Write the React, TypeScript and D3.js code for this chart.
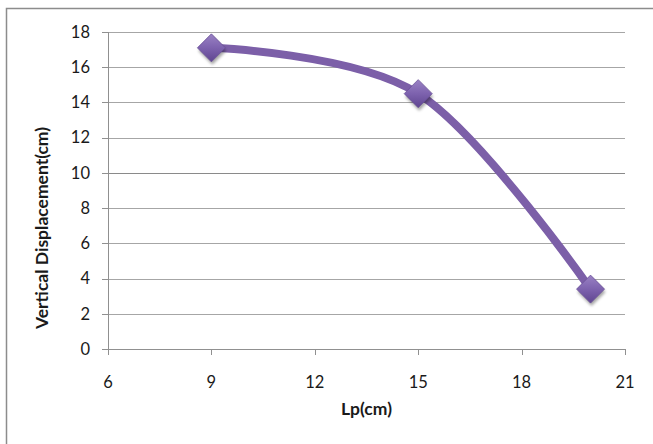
import React from "react";
import * as d3 from "d3";

// Measured lengths and the resulting vertical displacement
const lpValues = [9, 15, 20];
const displacementValues = [17.1, 14.5, 3.4];
const xTicks = [6, 9, 12, 15, 18, 21];
const yTicks = [0, 2, 4, 6, 8, 10, 12, 14, 16, 18];

const W = 653;
const H = 444;
const left = 108;
const right = 625;
const top = 32;
const bottom = 349;

const FONT = "Lato, 'Open Sans', 'Liberation Sans', sans-serif";

export default function App() {
  const x = d3.scaleLinear().domain([6, 21]).range([left, right]);
  const y = d3.scaleLinear().domain([0, 18]).range([bottom, top]);

  const points: [number, number][] = lpValues.map((v, i) => [x(v), y(displacementValues[i])]);
  const line = d3.line().curve(d3.curveCatmullRom.alpha(0))(points) || "";

  const diamond = (cx: number, cy: number, r: number) =>
    `M${cx},${cy - r}L${cx + r},${cy}L${cx},${cy + r}L${cx - r},${cy}Z`;

  return (
    <svg
      width={W}
      height={H}
      style={{ position: "absolute", left: 0, top: 0, background: "#fff" }}
    >
      <defs>
        <linearGradient id="mk" x1="0" y1="0" x2="0" y2="1">
          <stop offset="0" stopColor="#9a82c4" />
          <stop offset="0.5" stopColor="#7d62ae" />
          <stop offset="1" stopColor="#5f4590" />
        </linearGradient>
        <filter id="sh" x="-50%" y="-50%" width="200%" height="200%">
          <feGaussianBlur stdDeviation="1.6" />
        </filter>
        <filter id="soft" x="-5%" y="-5%" width="110%" height="110%">
          <feGaussianBlur stdDeviation="0.5" />
        </filter>
      </defs>

      {/* chart frame */}
      <rect x={6.5} y={8.5} width={W + 10} height={H + 10} fill="#fff" stroke="#8c8c8c" strokeWidth={1.5} />

      {/* horizontal gridlines */}
      {yTicks.map((t) => (
        <line
          key={"g" + t}
          x1={left}
          x2={right}
          y1={Math.round(y(t)) + 0.5}
          y2={Math.round(y(t)) + 0.5}
          stroke={t === 10 ? "#8a8a8a" : "#a6a6a6"}
          strokeWidth={1}
        />
      ))}

      {/* axes */}
      <line x1={left + 0.5} x2={left + 0.5} y1={top} y2={bottom} stroke="#909090" />
      <line x1={left} x2={right} y1={bottom + 0.5} y2={bottom + 0.5} stroke="#909090" />

      {yTicks.map((t) => (
        <g key={"y" + t}>
          <line x1={left - 6} x2={left} y1={Math.round(y(t)) + 0.5} y2={Math.round(y(t)) + 0.5} stroke="#909090" />
          <text
            x={left - 18}
            y={y(t)}
            dy="0.35em"
            textAnchor="end"
            fontFamily={FONT}
            fontSize={16.5}
            fill="#1a1a1a"
          >
            {t}
          </text>
        </g>
      ))}

      {xTicks.map((t) => (
        <g key={"x" + t}>
          <line x1={Math.round(x(t)) + 0.5} x2={Math.round(x(t)) + 0.5} y1={bottom} y2={bottom + 6} stroke="#909090" />
          <text
            x={x(t)}
            y={bottom + 33}
            dy="0.35em"
            textAnchor="middle"
            fontFamily={FONT}
            fontSize={16.5}
            fill="#1a1a1a"
          >
            {t}
          </text>
        </g>
      ))}

      {/* axis titles */}
      <text
        x={(left + right) / 2}
        y={409}
        dy="0.35em"
        textAnchor="middle"
        fontFamily={FONT}
        fontWeight="bold"
        fontSize={17.5}
        fill="#1a1a1a"
      >
        Lp(cm)
      </text>
      <text
        transform={`translate(42,228) rotate(-90)`}
        dy="0.35em"
        textAnchor="middle"
        fontFamily={FONT}
        fontWeight="bold"
        fontSize={17.5}
        fill="#1a1a1a"
      >
        Vertical Displacement(cm)
      </text>

      {/* smoothed series line */}
      <path d={line} fill="none" stroke="#7b5ea8" strokeWidth={8} strokeLinecap="round" filter="url(#soft)" />

      {/* diamond markers */}
      {points.map(([px, py], i) => (
        <g key={"m" + i}>
          <path d={diamond(px + 1, py + 3, 14)} fill="#000" opacity={0.35} filter="url(#sh)" />
          <path d={diamond(px, py, 14)} fill="url(#mk)" stroke="#6a4f98" strokeWidth={0.8} />
        </g>
      ))}
    </svg>
  );
}
